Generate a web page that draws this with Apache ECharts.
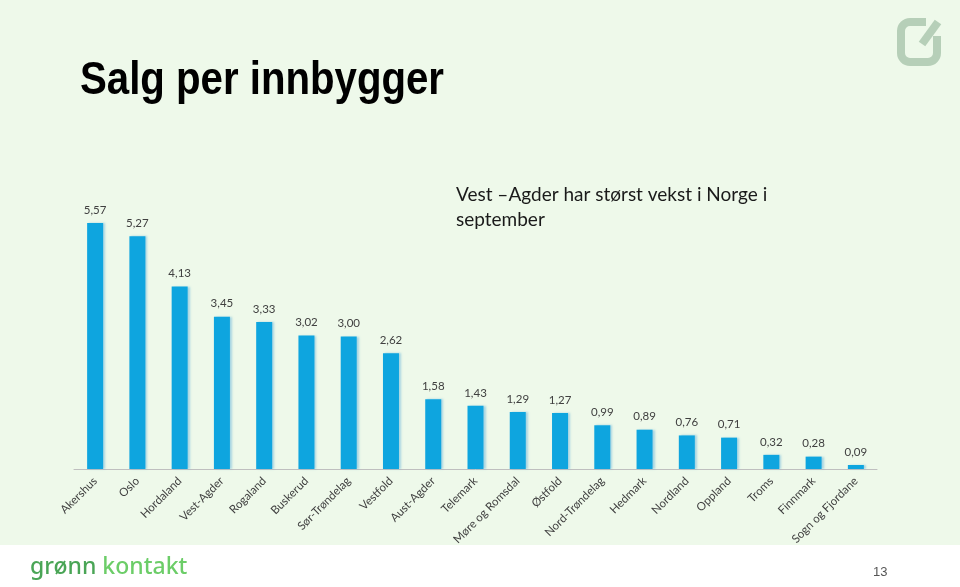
<!DOCTYPE html>
<html><head><meta charset="utf-8">
<script src="https://cdn.jsdelivr.net/npm/echarts@6/dist/echarts.min.js"></script>
<style>html,body{margin:0;padding:0;background:#fff}#c{width:960px;height:587px}</style>
</head><body><div id="c"></div>
<script>
const categories = ["Akershus","Oslo","Hordaland","Vest-Agder","Rogaland","Buskerud","Sør-Trøndelag","Vestfold","Aust-Agder","Telemark","Møre og Romsdal","Østfold","Nord-Trøndelag","Hedmark","Nordland","Oppland","Troms","Finnmark","Sogn og Fjordane"];
const values = [5.57,5.27,4.13,3.45,3.33,3.02,3.00,2.62,1.58,1.43,1.29,1.27,0.99,0.89,0.76,0.71,0.32,0.28,0.09];

const chart = echarts.init(document.getElementById('c'), null, {renderer:'canvas'});
chart.setOption({
  animation:false,
  backgroundColor:'#ffffff',
  graphic:[
    {type:'rect', shape:{x:0,y:0,width:960,height:545}, style:{fill:'#eef9ea'}, z:-10},
    {type:'text', x:80, y:58, scaleX:0.855, style:{text:'Salg per innbygger', font:'bold 47px "Liberation Sans", Arial', fill:'#000'}},
    {type:'text', x:456, y:182, style:{text:'Vest –Agder har størst vekst i Norge i\nseptember', font:'19px Lato, "Liberation Sans"', lineHeight:25, fill:'#1a1a1a'}},
    {type:'text', x:30, y:556, style:{text:'{a|grønn} {b|kontakt}', font:'500 23px "Noto Sans", "Liberation Sans"',
      rich:{a:{fill:'#4aa556', font:'500 23px "Noto Sans", "Liberation Sans"'}, b:{fill:'#6ccd68', font:'500 23px "Noto Sans", "Liberation Sans"'}}}},
    {type:'text', x:873, y:566, style:{text:'13', font:'13px "Liberation Sans"', fill:'#555'}},
    {type:'rect', shape:{x:901, y:22, width:36, height:40, r:9}, style:{stroke:'#b6cfb8', lineWidth:8, fill:null}},
    {type:'rect', shape:{x:926, y:14, width:18, height:22}, style:{fill:'#eef9ea'}},
    {type:'line', shape:{x1:922,y1:44,x2:938,y2:22}, style:{stroke:'#b6cfb8', lineWidth:8}}
  ],
  grid:{left:74, right:83, top:204, bottom:118, containLabel:false},
  xAxis:{type:'category', data:categories,
    axisLine:{lineStyle:{color:'#bfbfbf', width:1}}, axisTick:{show:false},
    axisLabel:{rotate:45, interval:0, color:'#404040', fontSize:11.5, fontFamily:'Lato, "Liberation Sans"', margin:10}},
  yAxis:{type:'value', min:0, max:6, show:false, splitLine:{show:false}},
  series:[{type:'bar', data:values, barWidth:16,
    itemStyle:{color:'#0ea5df', shadowColor:'rgba(120,190,220,0.6)', shadowOffsetX:2, shadowBlur:2},
    label:{show:true, position:'top', distance:7, color:'#404040', fontSize:11.5, fontFamily:'Lato, "Liberation Sans"',
      formatter:p=>p.value.toFixed(2).replace('.',',')}}]
});
</script></body></html>
